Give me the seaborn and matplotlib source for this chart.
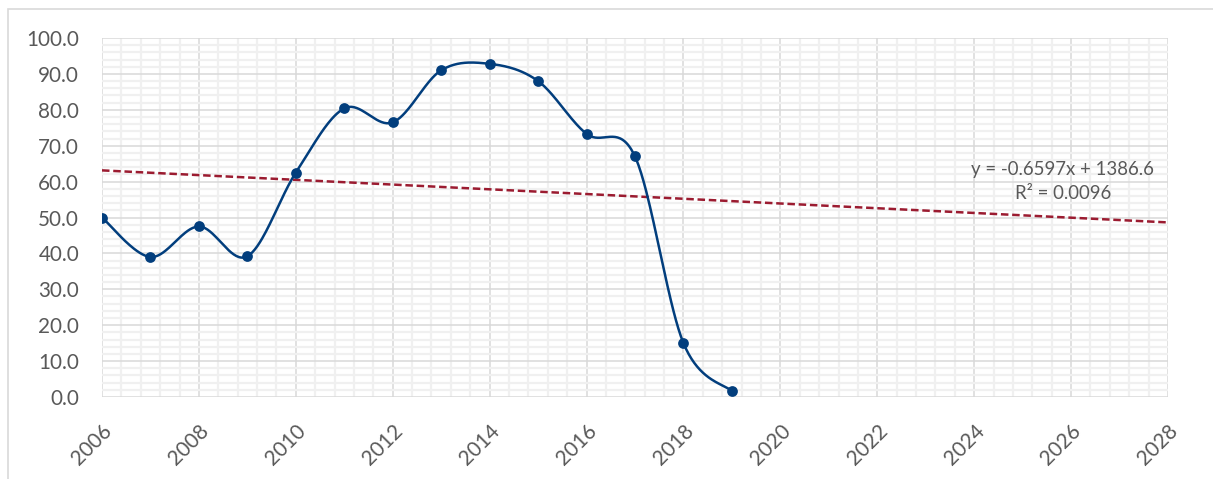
import numpy as np
import pandas as pd
import matplotlib
matplotlib.use("Agg")
import matplotlib.pyplot as plt
import seaborn as sns
from matplotlib.ticker import MultipleLocator, FormatStrFormatter
from matplotlib.patches import Rectangle

# Data
years = [2006, 2007, 2008, 2009, 2010, 2011, 2012, 2013, 2014, 2015, 2016, 2017, 2018, 2019]
values = [50.0, 39.0, 47.5, 39.2, 62.5, 80.4, 76.5, 91.0, 92.8, 88.0, 73.3, 67.0, 15.0, 1.6]
trend_label = "y = -0.6597x + 1386.6\nR² = 0.0096"
x_range = [2006, 2028]

LINE_COLOR = "#023e7d"
TREND_COLOR = "#9b1b30"
TEXT_COLOR = "#595959"


def excel_smooth(xs, ys, n=40):
    # Excel-style smoothed line: cubic Bezier segments with Catmull-Rom control points
    xs = np.asarray(xs, float)
    ys = np.asarray(ys, float)
    px = np.concatenate([[xs[0]], xs, [xs[-1]]])
    py = np.concatenate([[ys[0]], ys, [ys[-1]]])
    out_x, out_y = [], []
    t = np.linspace(0, 1, n)
    for i in range(1, len(px) - 2):
        p0 = np.array([px[i], py[i]])
        p3 = np.array([px[i + 1], py[i + 1]])
        c1 = p0 + (np.array([px[i + 1], py[i + 1]]) - np.array([px[i - 1], py[i - 1]])) / 6
        c2 = p3 - (np.array([px[i + 2], py[i + 2]]) - np.array([px[i], py[i]])) / 6
        b = ((1 - t) ** 3)[:, None] * p0 + (3 * (1 - t) ** 2 * t)[:, None] * c1 \
            + (3 * (1 - t) * t ** 2)[:, None] * c2 + (t ** 3)[:, None] * p3
        out_x.extend(b[:, 0])
        out_y.extend(b[:, 1])
    return np.array(out_x), np.array(out_y)


df = pd.DataFrame({"year": years, "value": values})
sx, sy = excel_smooth(years, values)
smooth = pd.DataFrame({"year": sx, "value": sy})

slope, intercept = np.polyfit(years, values, 1)
trend = pd.DataFrame({"year": x_range, "value": [slope * x + intercept for x in x_range]})

sns.set_theme(style="white")
plt.rcParams["font.family"] = ["Lato", "DejaVu Sans"]

fig = plt.figure(figsize=(12.13, 4.79), dpi=100)
ax = fig.add_axes([102 / 1213, 1 - 397 / 479, (1168 - 102) / 1213, (397 - 38) / 479])

# chart area border (only top and left edges fall inside the picture)
fig.patches.append(Rectangle((8 / 1213, -0.1), 1.2, 1 - 9 / 479 + 0.1,
                             transform=fig.transFigure, fill=False, edgecolor="#d9d9d9", lw=1.2))

sns.lineplot(data=smooth, x="year", y="value", ax=ax, color=LINE_COLOR, lw=1.8, sort=False,
             estimator=None, zorder=3)
sns.scatterplot(data=df, x="year", y="value", ax=ax, color=LINE_COLOR, s=60, edgecolor=LINE_COLOR,
                linewidth=0, zorder=4)
sns.lineplot(data=trend, x="year", y="value", ax=ax, color=TREND_COLOR, lw=1.8, zorder=2,
             estimator=None)
ax.lines[-1].set_dashes([3, 1.5])

ax.set_xlim(x_range)
ax.set_ylim(0, 100)
ax.xaxis.set_major_locator(MultipleLocator(2))
ax.xaxis.set_minor_locator(MultipleLocator(0.4))
ax.yaxis.set_major_locator(MultipleLocator(10))
ax.yaxis.set_minor_locator(MultipleLocator(2))
ax.yaxis.set_major_formatter(FormatStrFormatter("%.1f"))

ax.grid(which="minor", color="#f0f0f0", lw=1.6, zorder=0)
ax.grid(which="major", color="#d9d9d9", lw=1.1, zorder=1)
ax.set_axisbelow(True)
for s in ax.spines.values():
    s.set_visible(False)

ax.tick_params(which="both", length=0, colors=TEXT_COLOR, labelsize=14.9)
ax.tick_params(axis="y", pad=16.5)
ax.tick_params(axis="x", pad=17)
plt.setp(ax.get_xticklabels(), rotation=45, ha="right", va="top", rotation_mode="anchor")
ax.set_xlabel("")
ax.set_ylabel("")

ax.text(2025.83, 60.0, trend_label, ha="center", va="center", color=TEXT_COLOR, fontsize=13.4,
        linespacing=1.55)

fig.savefig("out.png", dpi=100)
